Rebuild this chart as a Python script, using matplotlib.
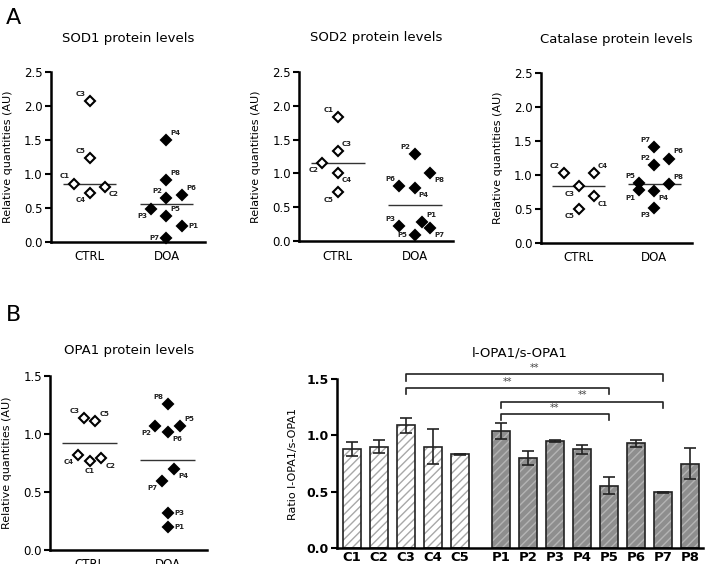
import numpy as np
from matplotlib import pyplot as plt

# ---- data -------------------------------------------------------------
groups = ['CTRL', 'DOA']
ctrl_names = ['C1', 'C2', 'C3', 'C4', 'C5']
doa_names = ['P1', 'P2', 'P3', 'P4', 'P5', 'P6', 'P7', 'P8']

sod1_ctrl = [0.86, 0.81, 2.08, 0.72, 1.235]
sod1_doa = [0.235, 0.64, 0.49, 1.50, 0.38, 0.69, 0.065, 0.91]

sod2_ctrl = [1.835, 1.16, 1.33, 1.01, 0.72]
sod2_doa = [0.28, 1.28, 0.23, 0.79, 0.09, 0.81, 0.20, 1.01]

cat_ctrl = [0.68, 1.02, 0.83, 1.02, 0.50]
cat_doa = [0.77, 1.14, 0.51, 0.76, 0.88, 1.24, 1.41, 0.86]

opa1_ctrl = [0.77, 0.79, 1.14, 0.82, 1.11]
opa1_doa = [0.20, 1.07, 0.32, 0.70, 1.07, 1.02, 0.595, 1.26]

bar_labels = ctrl_names + doa_names
ratio = [0.88, 0.90, 1.09, 0.90, 0.834, 1.04, 0.80, 0.95, 0.876, 0.553, 0.93, 0.494, 0.75]
ratio_err = [0.06, 0.06, 0.065, 0.157, 0.004, 0.068, 0.066, 0.008, 0.04, 0.074, 0.03, 0.008, 0.14]
# (from, to, height) significance brackets
brackets = [('C3', 'P7', 1.54), ('C3', 'P5', 1.42), ('P1', 'P7', 1.30), ('P1', 'P5', 1.19)]

# ---- layout helpers ----------------------------------------------------
# horizontal jitter of each point inside its column, and where its label goes
sod1_jit = ([-0.2, 0.2, 0, 0, 0], [0.2, 0, -0.2, 0, 0, 0.2, 0, 0])
sod1_lab = (['ul', 'lr', 'ul', 'll', 'ul'], ['r', 'ul', 'll', 'ur', 'ur', 'ur', 'l', 'ur'])
sod2_jit = ([0, -0.2, 0, 0, 0], [0.1, 0, -0.2, 0, 0, -0.2, 0.2, 0.2])
sod2_lab = (['ul', 'll', 'ur', 'lr', 'll'], ['ur', 'ul', 'ul', 'lr', 'l', 'ul', 'lr', 'lr'])
cat_jit = ([0.2, -0.2, 0, 0.2, 0], [-0.2, 0, 0, 0, -0.2, 0.2, 0, 0.2])
cat_lab = (['lr', 'ul', 'll', 'ur', 'll'], ['ll', 'ul', 'll', 'lr', 'ul', 'ur', 'ul', 'ur'])
opa1_jit = ([0, 0.15, -0.075, -0.15, 0.075], [0, -0.16, 0, 0.075, 0.16, 0, -0.075, 0])
opa1_lab = (['b', 'lr', 'ul', 'll', 'ur'], ['r', 'll', 'r', 'lr', 'ur', 'lr', 'll', 'ul'])

OFFS = {'ul': (-3, 3, 'right', 'bottom'), 'ur': (3, 3, 'left', 'bottom'),
        'll': (-3, -3, 'right', 'top'), 'lr': (3, -3, 'left', 'top'),
        'l': (-5, 0, 'right', 'center'), 'r': (5, 0, 'left', 'center'),
        'b': (0, -5, 'center', 'top')}

plt.rcParams['font.family'] = 'DejaVu Sans'

fig = plt.figure(figsize=(7.09, 5.64), dpi=100)


def style_axes(ax, ymax, step):
    for s in ('top', 'right'):
        ax.spines[s].set_visible(False)
    for s in ('left', 'bottom'):
        ax.spines[s].set_linewidth(1.8)
    ax.set_ylim(0, ymax)
    ax.set_yticks(np.arange(0, ymax + 0.01, step))
    ax.yaxis.set_major_formatter(plt.FormatStrFormatter('%.1f'))
    ax.tick_params(axis='y', length=4, width=1.5, labelsize=8.5, pad=2)
    ax.tick_params(axis='x', length=0, labelsize=8.5, pad=6)


def dot_panel(rect, title, ctrl, doa, jit, lab, ymax, step, center='median', pad=22):
    ax = fig.add_axes(rect)
    style_axes(ax, ymax, step)
    ax.set_xlim(-0.5, 1.5)
    ax.set_xticks([0, 1])
    ax.set_xticklabels(groups)
    ax.set_title(title, fontsize=9.5, pad=pad)
    ax.set_ylabel('Relative quantities (AU)', fontsize=8, labelpad=8)
    for gi, (vals, names, face) in enumerate([(ctrl, ctrl_names, 'white'), (doa, doa_names, 'black')]):
        xs = gi + np.array(jit[gi])
        ax.plot(xs, vals, 'D', ms=5.3, mfc=face, mec='black', mew=1.5, clip_on=False, zorder=3)
        for x, y, n, d in zip(xs, vals, names, lab[gi]):
            dx, dy, ha, va = OFFS[d]
            ax.annotate(n, (x, y), xytext=(dx, dy), textcoords='offset points',
                        ha=ha, va=va, fontsize=5, fontweight='bold', color='#222222')
        c = np.median(vals) if center == 'median' else np.mean(vals)
        ax.hlines(c, gi - 0.35, gi + 0.35, color='#333333', lw=1)
    return ax


dot_panel([0.072, 0.571, 0.217, 0.301], 'SOD1 protein levels', sod1_ctrl, sod1_doa,
          sod1_jit, sod1_lab, 2.5, 0.5)
dot_panel([0.422, 0.572, 0.217, 0.301], 'SOD2 protein levels', sod2_ctrl, sod2_doa,
          sod2_jit, sod2_lab, 2.5, 0.5)
dot_panel([0.763, 0.570, 0.213, 0.300], 'Catalase protein levels', cat_ctrl, cat_doa,
          cat_jit, cat_lab, 2.5, 0.5)
dot_panel([0.071, 0.025, 0.221, 0.308], 'OPA1 protein levels', opa1_ctrl, opa1_doa,
          opa1_jit, opa1_lab, 1.5, 0.5, center='mean', pad=16)

# ---- bar chart ----------------------------------------------------------
ax = fig.add_axes([0.475, 0.028, 0.516, 0.300])
style_axes(ax, 1.5, 0.5)
xpos = np.concatenate([np.arange(len(ctrl_names)), np.arange(len(doa_names)) + len(ctrl_names) + 0.5])
pos = dict(zip(bar_labels, xpos))
n_c = len(ctrl_names)
faces = ['white'] * n_c + ['#8e8e8e'] * len(doa_names)
hatch_cols = ['#a8a8a8'] * n_c + ['#b4b4b4'] * len(doa_names)
ax.bar(xpos, ratio, width=0.66, color=faces, edgecolor=hatch_cols, hatch='////', lw=0)
ax.bar(xpos, ratio, width=0.66, fill=False, edgecolor='#222222', lw=1.2)
ax.errorbar(xpos, ratio, yerr=ratio_err, fmt='none', ecolor='#222222', elinewidth=1.2,
            capsize=4, capthick=1.2)
ax.set_xlim(-0.55, xpos[-1] + 0.45)
ax.set_xticks(xpos)
ax.set_xticklabels(bar_labels, fontweight='bold', fontsize=9.5)
ax.tick_params(axis='x', pad=2)
for t in ax.get_yticklabels():
    t.set_fontweight('bold')
    t.set_fontsize(9)
ax.set_ylabel('Ratio l-OPA1/s-OPA1', fontsize=8, labelpad=6)
ax.set_title('l-OPA1/s-OPA1', fontsize=9.5, pad=16)
for a, b, h in brackets:
    x0, x1 = pos[a], pos[b]
    ax.plot([x0, x0, x1, x1], [h - 0.055, h, h, h - 0.055], color='#222222', lw=1.2, clip_on=False)
    ax.text((x0 + x1) / 2, h + 0.01, '**', ha='center', va='bottom', fontsize=7, color='#444444')

fig.text(0.008, 0.985, 'A', fontsize=16, va='top', ha='left')
fig.text(0.008, 0.46, 'B', fontsize=16, va='top', ha='left')

fig.savefig('out.png', dpi=100)
